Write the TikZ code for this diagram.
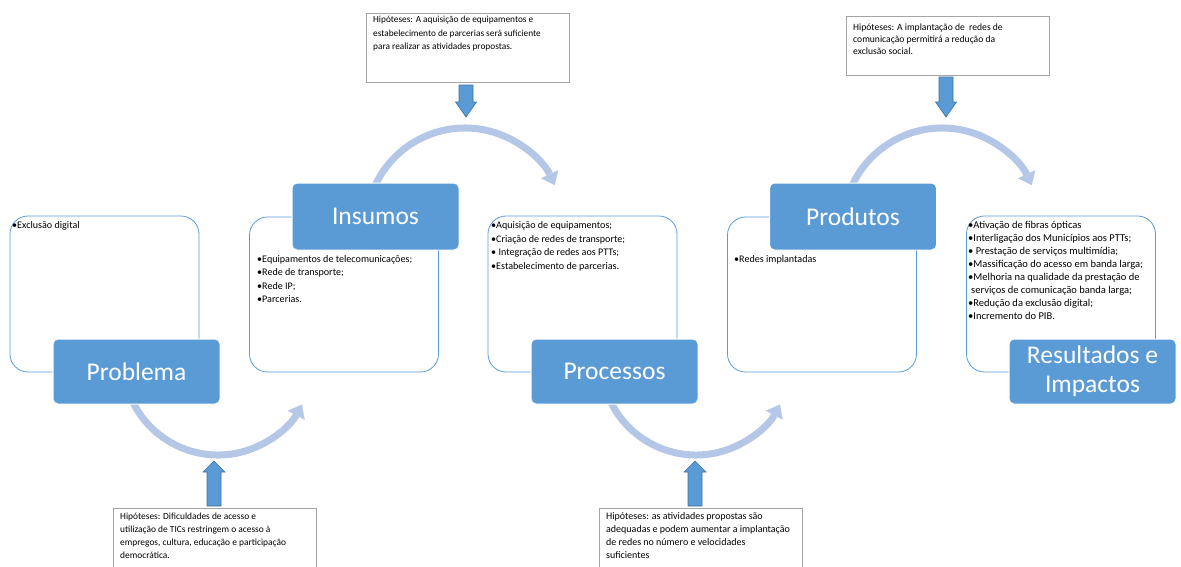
\documentclass[tikz,border=0pt]{standalone}
\usepackage{fontspec}
\setmainfont{Carlito}
\usetikzlibrary{arrows.meta,calc}
\definecolor{boxblue}{HTML}{5B9BD5}
\definecolor{arcblue}{HTML}{B4C7E7}
\definecolor{lineblue}{HTML}{5B9BD5}
\definecolor{hypgray}{HTML}{A5A5A5}
\definecolor{arrowedge}{HTML}{41719C}
\newcommand\smalltxt{\fontsize{10.1}{13.5}\selectfont}
\newcommand\tighttxt{\fontsize{10.5}{13}\selectfont}
\newcommand\titletxt{\fontsize{25.5}{29}\selectfont}
\begin{document}
\begin{tikzpicture}[x=1pt,y=-1pt,
  tbox/.style={draw=lineblue, line width=0.8pt, rounded corners=18pt, fill=white, inner sep=0pt, minimum width=189pt},
  titlebox/.style={fill=boxblue, draw=white, line width=1pt, rounded corners=5pt, text=white, font=\titletxt, minimum width=167pt, align=center, inner sep=0pt},
  body/.style={anchor=north west, inner sep=0pt, align=left, font=\smalltxt},
  hypbox/.style={draw=hypgray, line width=0.8pt, fill=white, inner sep=0pt, minimum width=203pt},
  arcarrow/.style={draw=arcblue, line width=7pt, -{Triangle[width=19pt, length=12pt, line width=0.1pt]}},
  blockarrow/.style={fill=boxblue, draw=arrowedge, line width=0.6pt},
]
\useasboundingbox (0,0) rectangle (1181,566);

% text boxes
\node[tbox, minimum height=156pt] (t1) at (104.5,294) {};
\node[tbox, minimum height=155pt] (t2) at (344,294.5) {};
\node[tbox, minimum height=156pt] (t3) at (582.5,294) {};
\node[tbox, minimum height=155pt] (t4) at (822,294.5) {};
\node[tbox, minimum height=156pt] (t5) at (1061,294) {};

% arcs
\coordinate (c1) at (218,360);
\coordinate (c2) at (465,227);
\coordinate (c3) at (696,360);
\coordinate (c4) at (942,227);
\draw[arcarrow] ([shift={(160:95)}]c1) arc[start angle=160, end angle=28, radius=95];
\draw[arcarrow] ([shift={(200:99)}]c2) arc[start angle=200, end angle=335, radius=99];
\draw[arcarrow] ([shift={(160:95)}]c3) arc[start angle=160, end angle=28, radius=95];
\draw[arcarrow] ([shift={(200:99)}]c4) arc[start angle=200, end angle=335, radius=99];

% title boxes
\node[titlebox, minimum height=65pt] (b1) at (136.5,371.5) {Problema};
\node[titlebox, minimum height=67pt] (b2) at (375.5,216.5) {Insumos};
\node[titlebox, minimum height=65pt] (b3) at (614.5,371.5) {Processos};
\node[titlebox, minimum height=67pt] (b4) at (853,216.5) {Produtos};
\node[titlebox, minimum height=65pt] (b5) at (1092.5,371.5) {Resultados e\\Impactos};

% body texts
\node[body] (x1) at (12,221.5) {•Exclusão digital};
\node[body] (x2) at (257,255) {•Equipamentos de telecomunicações;\\•Rede de transporte;\\•Rede IP;\\•Parcerias.};
\node[body] (x3) at (491,221.5) {•Aquisição de equipamentos;\\•Criação de redes de transporte;\\• Integração de redes aos PTTs;\\•Estabelecimento de parcerias.};
\node[body] (x4) at (734,255.5) {•Redes implantadas};
\node[body, font=\tighttxt] (x5) at (968,221.5) {•Ativação de fibras ópticas\\•Interligação dos Municípios aos PTTs;\\• Prestação de serviços multimídia;\\•Massificação do acesso em banda larga;\\•Melhoria na qualidade da prestação de\\\hspace*{3pt}serviços de comunicação banda larga;\\•Redução da exclusão digital;\\•Incremento do PIB.};

% hypothesis boxes
\node[hypbox, minimum height=69pt] (h1) at (468,47.5) {};
\node[hypbox, minimum height=59pt] (h2) at (948,45.5) {};
\node[hypbox, minimum height=70pt] (h3) at (214.5,543) {};
\node[hypbox, minimum height=70pt] (h4) at (700.5,543) {};
\node[body, font=\fontsize{9.3}{13.5}\selectfont] (y1) at (373,16) {Hipóteses: A aquisição de equipamentos e\\estabelecimento de parcerias será suficiente\\para realizar as atividades propostas.};
\node[body, font=\fontsize{9.6}{12}\selectfont] (y2) at (853,24) {Hipóteses: A implantação de \ redes de\\comunicação permitirá a redução da\\exclusão social.};
\node[body, font=\fontsize{9.4}{13}\selectfont] (y3) at (120,513) {Hipóteses: Dificuldades de acesso e\\utilização de TICs restringem o acesso à\\empregos, cultura, educação e participação\\democrática.};
\node[body, font=\fontsize{10}{12.8}\selectfont] (y4) at (606,512.5) {Hipóteses: as atividades propostas são\\adequadas e podem aumentar a implantação\\de redes no número e velocidades\\suficientes};

% block arrows
\coordinate (a1) at (466,117);
\coordinate (a2) at (946,117);
\coordinate (a3) at (214,461);
\coordinate (a4) at (695,461);
\draw[blockarrow] (a1) -- ++(-10.5,-15) -- ++(3.5,0) -- ++(0,-17) -- ++(14,0) -- ++(0,17) -- ++(3.5,0) -- cycle;
\draw[blockarrow] (a2) -- ++(-10.5,-15) -- ++(3.5,0) -- ++(0,-25) -- ++(14,0) -- ++(0,25) -- ++(3.5,0) -- cycle;
\draw[blockarrow] (a3) -- ++(-11,11) -- ++(4,0) -- ++(0,34) -- ++(14,0) -- ++(0,-34) -- ++(4,0) -- cycle;
\draw[blockarrow] (a4) -- ++(-11,11) -- ++(4,0) -- ++(0,34) -- ++(14,0) -- ++(0,-34) -- ++(4,0) -- cycle;
\end{tikzpicture}
\end{document}
